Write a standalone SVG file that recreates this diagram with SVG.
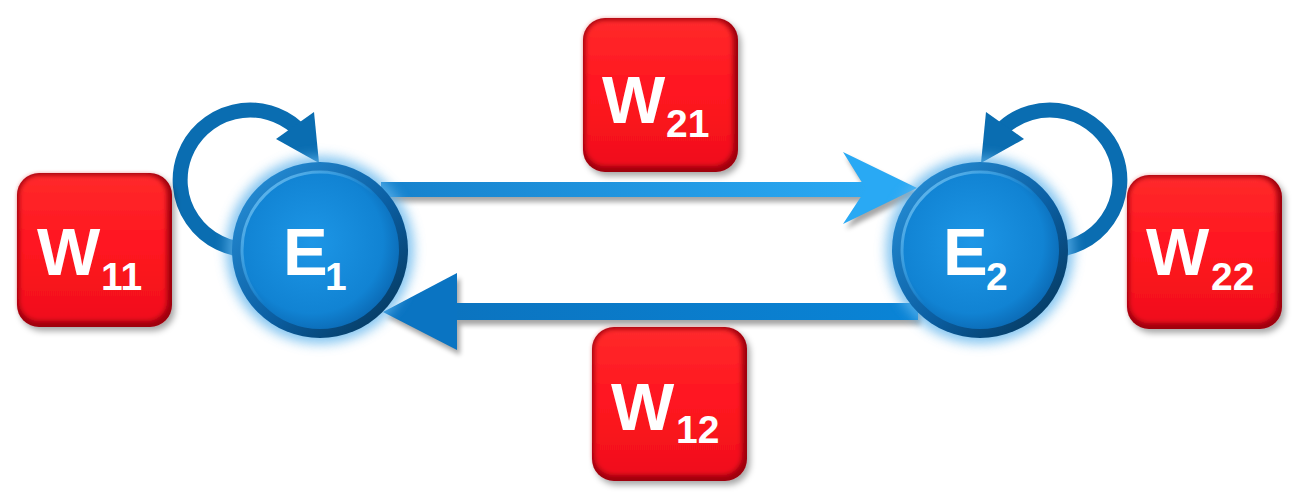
<svg xmlns="http://www.w3.org/2000/svg" width="1296" height="497" viewBox="0 0 1296 497">
<defs>
  <filter id="shadow" x="-20%" y="-20%" width="150%" height="150%">
    <feDropShadow dx="3" dy="4" stdDeviation="3" flood-color="#000" flood-opacity="0.35"/>
  </filter>
  <filter id="glow" x="-30%" y="-30%" width="160%" height="160%">
    <feGaussianBlur stdDeviation="6"/>
  </filter>
  <filter id="soft" x="-20%" y="-20%" width="140%" height="140%">
    <feGaussianBlur stdDeviation="2.5"/>
  </filter>
  <linearGradient id="rim" x1="0" y1="0" x2="1" y2="1">
    <stop offset="0" stop-color="#2a95de"/>
    <stop offset="0.55" stop-color="#0b5fa3"/>
    <stop offset="1" stop-color="#04304f"/>
  </linearGradient>
  <radialGradient id="disc" cx="0.45" cy="0.45" r="0.6">
    <stop offset="0" stop-color="#1d96e6"/>
    <stop offset="0.75" stop-color="#1183d3"/>
    <stop offset="1" stop-color="#0a66b0"/>
  </radialGradient>
  <linearGradient id="hl" x1="0" y1="0" x2="1" y2="1">
    <stop offset="0" stop-color="#7fcbf7" stop-opacity="0.9"/>
    <stop offset="0.5" stop-color="#7fcbf7" stop-opacity="0"/>
  </linearGradient>
  <linearGradient id="topArrow" x1="0" y1="0" x2="1" y2="0">
    <stop offset="0" stop-color="#1681cc"/>
    <stop offset="1" stop-color="#2aa9f3"/>
  </linearGradient>
  <linearGradient id="botArrow" x1="0" y1="0" x2="1" y2="0">
    <stop offset="0" stop-color="#0b74c0"/>
    <stop offset="1" stop-color="#0a84d6"/>
  </linearGradient>
  <linearGradient id="redFace" x1="0" y1="0" x2="0" y2="1">
    <stop offset="0" stop-color="#ff2a2a"/>
    <stop offset="0.5" stop-color="#ff1420"/>
    <stop offset="1" stop-color="#f0101c"/>
  </linearGradient>
  <g id="redbox">
    <rect x="0" y="0" width="155" height="154" rx="22" fill="#9e0010" filter="url(#shadow)"/>
    <rect x="2" y="2" width="148" height="146" rx="20" fill="url(#redFace)" filter="url(#soft)"/>
    <path d="M22 12 H133" stroke="#ff8a8a" stroke-width="3" stroke-linecap="round" opacity="0.55" filter="url(#soft)"/>
  </g>
  <g id="ball">
    <circle cx="0" cy="0" r="94" fill="#5db3ec" opacity="0.75" filter="url(#glow)"/>
    <circle cx="0" cy="0" r="88" fill="url(#rim)"/>
    <circle cx="0" cy="0" r="79" fill="url(#disc)"/>
    <circle cx="0" cy="0" r="78" fill="none" stroke="url(#hl)" stroke-width="3"/>
  </g>
</defs>
<style>
  .lbl { font-family: "Liberation Sans", Arial, sans-serif; font-weight: bold; fill: #ffffff; }
  .big { font-size: 67px; }
  .sub { font-size: 39px; }
  .loop { fill: none; stroke: #0a6db1; stroke-width: 15; }
</style>

<g id="connectors">
  <!-- E1 self loop -->
  <g id="loop-E1">
    <path class="loop" d="M 250 250 A 70 70 0 1 1 297 128"/>
    <polygon points="314,112 319,163 276,139" fill="#0a6db1"/>
  </g>
  <!-- E2 self loop (mirror) -->
  <g id="loop-E2" transform="translate(1300,0) scale(-1,1)">
    <path class="loop" d="M 250 250 A 70 70 0 1 1 297 128"/>
    <polygon points="314,112 319,163 276,139" fill="#0a6db1"/>
  </g>
  <!-- E1 -> E2 -->
  <g id="arrow-E1-E2">
    <g opacity="0.35" filter="url(#soft)" transform="translate(3,5)">
      <rect x="381" y="182" width="486" height="15" fill="#000"/>
      <polygon points="843,152 917,188 843,224 866,189" fill="#000"/>
    </g>
    <rect x="381" y="182" width="486" height="15" fill="url(#topArrow)"/>
    <polygon points="843,152 917,188 843,224 866,189" fill="#29a9f4"/>
  </g>
  <!-- E2 -> E1 -->
  <g id="arrow-E2-E1">
    <g opacity="0.35" filter="url(#soft)" transform="translate(3,5)">
      <rect x="456" y="303" width="462" height="17" fill="#000"/>
      <polygon points="383,312 457,273 457,350" fill="#000"/>
    </g>
    <rect x="456" y="303" width="462" height="17" fill="url(#botArrow)"/>
    <polygon points="383,312 457,273 457,350" fill="#0a74c2"/>
  </g>
</g>

<g id="node-E1">
  <use href="#ball" x="320" y="250"/>
  <text class="lbl big" x="283" y="275">E<tspan class="sub" x="325" y="290">1</tspan></text>
</g>
<g id="node-E2">
  <use href="#ball" x="980" y="250"/>
  <text class="lbl big" x="943" y="275">E<tspan class="sub" x="986" y="290">2</tspan></text>
</g>

<g id="node-W11">
  <use href="#redbox" x="17" y="173"/>
  <text class="lbl big" x="37" y="275">W<tspan class="sub" x="101" y="290">11</tspan></text>
</g>
<g id="node-W21">
  <use href="#redbox" x="583" y="18"/>
  <text class="lbl big" x="602" y="123">W<tspan class="sub" x="666" y="137">21</tspan></text>
</g>
<g id="node-W12">
  <use href="#redbox" x="592" y="327"/>
  <text class="lbl big" x="611" y="430">W<tspan class="sub" x="676" y="443">12</tspan></text>
</g>
<g id="node-W22">
  <use href="#redbox" x="1127" y="175"/>
  <text class="lbl big" x="1146" y="275">W<tspan class="sub" x="1211" y="290">22</tspan></text>
</g>
</svg>
